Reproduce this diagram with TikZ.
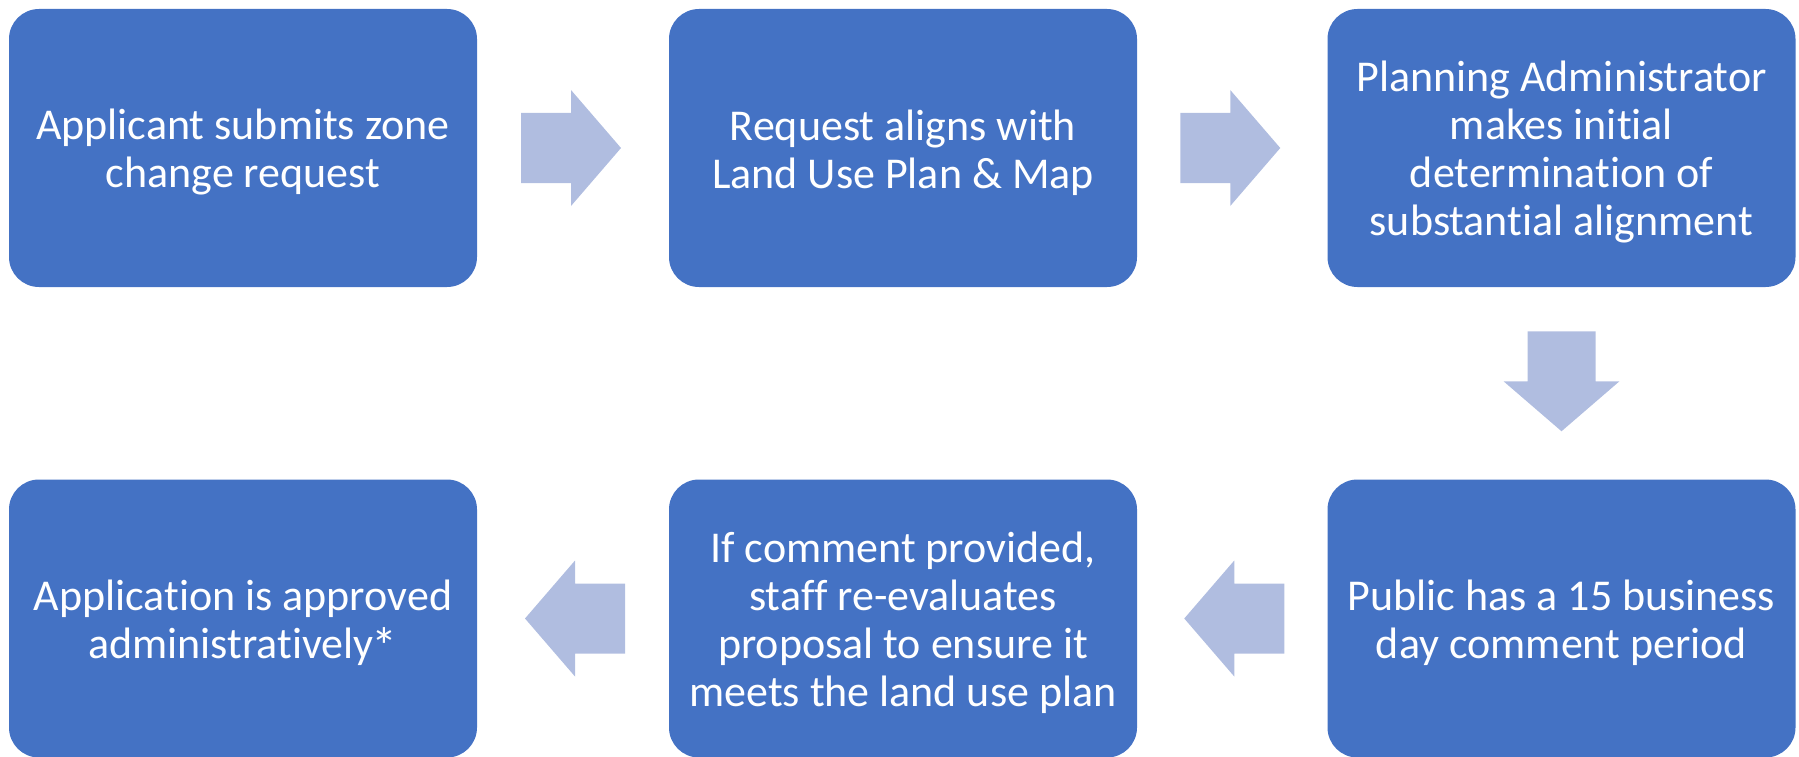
\documentclass[tikz,border=0pt]{standalone}
\usepackage{fontspec}
\setmainfont{Carlito}[Ligatures={NoCommon}]
\definecolor{boxblue}{HTML}{4472C4}
\definecolor{arrowblue}{HTML}{B0BDE0}
\begin{document}
\begin{tikzpicture}[x=1pt,y=-1pt,
  stepbox/.style={fill=boxblue, draw=none, rounded corners=30pt, minimum width=468pt, minimum height=278pt, inner sep=0pt},
  steptext/.style={inner sep=0pt, align=center, text=white, font=\fontsize{44pt}{48pt}\selectfont},
  blockarrow/.style={fill=arrowblue, draw=none}]
\useasboundingbox (0,0) rectangle (1799,757);
\node[stepbox] (b1) at (243,148) {};
\node[stepbox] (b2) at (903,148) {};
\node[stepbox] (b3) at (1561.5,148) {};
\node[stepbox] (b4) at (1561.5,618.5) {};
\node[stepbox] (b5) at (903,618.5) {};
\node[stepbox] (b6) at (243,618.5) {};
\node[steptext] (t1) at ([yshift=-4.5pt]b1.center) {Applicant submits zone\\change request};
\node[steptext] (t2) at ([yshift=-4.5pt]b2.center) {Request aligns with\\Land Use Plan \& Map};
\node[steptext] (t3) at ([yshift=-4.5pt]b3.center) {Planning Administrator\\makes initial\\determination of\\substantial alignment};
\node[steptext] (t4) at ([yshift=-4.5pt]b4.center) {Public has a 15 business\\day comment period};
\node[steptext] (t5) at ([yshift=-4.5pt]b5.center) {If comment provided,\\staff re-evaluates\\proposal to ensure it\\meets the land use plan};
\node[steptext] (t6) at ([yshift=-4.5pt]b6.center) {Application is approved\\administratively\kern-2pt\raisebox{-0.12em}{\fontsize{52pt}{48pt}\selectfont*}};
\path (b1.east) -- (b2.west) coordinate[pos=0.5] (m1);
\path (b2.east) -- (b3.west) coordinate[pos=0.5] (m2);
\path (b3.south) -- (b4.north) coordinate[pos=0.5] (m3);
\path (b4.west) -- (b5.east) coordinate[pos=0.5] (m4);
\path (b5.west) -- (b6.east) coordinate[pos=0.5] (m5);
% right arrows
\foreach \m in {m1,m2}{
  \fill[blockarrow, shift={(\m)}] (-52,-35) -- (-2,-35) -- (-2,-58) -- (48,0) -- (-2,58) -- (-2,35) -- (-52,35) -- cycle;
}
% down arrow
\fill[blockarrow, shift={(m3)}] (-34,-52) -- (34,-52) -- (34,-2) -- (58,-2) -- (0,48) -- (-58,-2) -- (-34,-2) -- cycle;
% left arrows
\foreach \m in {m4,m5}{
  \fill[blockarrow, shift={(\m)}] (52,-35) -- (2,-35) -- (2,-58) -- (-48,0) -- (2,58) -- (2,35) -- (52,35) -- cycle;
}
\end{tikzpicture}
\end{document}
